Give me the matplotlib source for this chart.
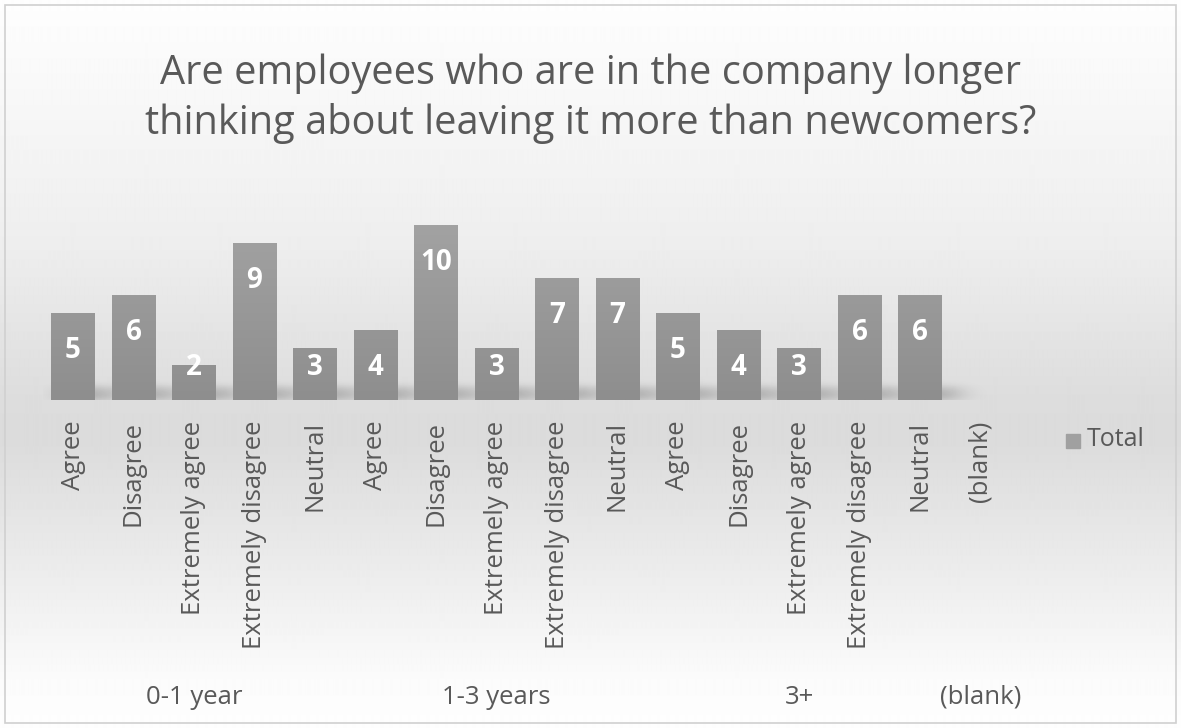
import numpy as np
import matplotlib.pyplot as plt
from matplotlib.colors import LinearSegmentedColormap

plt.rcParams['font.family'] = ['Open Sans', 'DejaVu Sans']

groups = ["0-1 year", "1-3 years", "3+", "(blank)"]
answers = [
    ["Agree", "Disagree", "Extremely agree", "Extremely disagree", "Neutral"],
    ["Agree", "Disagree", "Extremely agree", "Extremely disagree", "Neutral"],
    ["Agree", "Disagree", "Extremely agree", "Extremely disagree", "Neutral"],
    ["(blank)"],
]
totals = [
    [5, 6, 2, 9, 3],
    [4, 10, 3, 7, 7],
    [5, 4, 3, 6, 6],
    [0],
]
title = "Are employees who are in the company longer\nthinking about leaving it more than newcomers?"

labels = [a for grp in answers for a in grp]
values = [v for grp in totals for v in grp]
x = np.arange(len(labels))

W, H = 1181, 728
fig = plt.figure(figsize=(W / 100, H / 100), dpi=100)

# background: white at the top, grey band behind the bars, white again at the bottom
bg = fig.add_axes([0, 0, 1, 1], zorder=-2)
stops_y = np.array([0, 120, 250, 400, 440, 560, 680, 728])
stops_v = np.array([0.995, 0.965, 0.93, 0.865, 0.86, 0.92, 0.985, 0.995])
ys = np.arange(H)
col = np.interp(ys, stops_y, stops_v)
bg.imshow(np.repeat(col[:, None], 4, axis=1), cmap="gray", vmin=0, vmax=1,
          aspect="auto", extent=[0, 1, 1, 0], interpolation="bilinear")
bg.set_xlim(0, 1)
bg.set_ylim(1, 0)
bg.axis("off")
bg.add_patch(plt.Rectangle((5 / W, 5 / H), 1171 / W, 718 / H, fill=False,
                           edgecolor="#d0d0d0", lw=1.2))

step = 60.5
x0 = 42.75
ax = fig.add_axes([x0 / W, (H - 400) / H, 16 * step / W, 210 / H])
ax.set_xlim(-0.5, len(labels) - 0.5)
ax.set_ylim(0, 12)
ax.patch.set_alpha(0)

# soft shadow at the foot of the bars
nx, ny = 800, 120
sx = np.linspace(-0.5, len(labels) - 0.5, nx)
sy = np.linspace(0, 3, ny)
mask = np.zeros((ny, nx))
for xi, v in zip(x, values):
    if v <= 0:
        continue
    inx = (sx > xi - 0.1) & (sx < xi + 0.6)
    iny = sy < min(v, 0.7)
    mask[np.ix_(iny, inx)] = 1.0
k = np.exp(-0.5 * (np.arange(-40, 41) / 12.0) ** 2)
k /= k.sum()
blur = np.apply_along_axis(lambda r: np.convolve(r, k, mode="same"), 1, mask)
ky = np.exp(-0.5 * (np.arange(-30, 31) / 9.0) ** 2)
ky /= ky.sum()
blur = np.apply_along_axis(lambda c: np.convolve(c, ky, mode="same"), 0, blur)
shadow = np.zeros((ny, nx, 4))
shadow[..., 3] = 0.25 * blur
ax.imshow(shadow, extent=[sx[0], sx[-1], 0, 3], origin="lower",
          aspect="auto", zorder=1, interpolation="bilinear")

bars = ax.bar(x, values, width=0.72, color="#979797", zorder=2)
grad_cmap = LinearSegmentedColormap.from_list("bar", ["#8e8e8e", "#a2a2a2"])
for b in bars:
    if b.get_height() <= 0:
        continue
    bx, by = b.get_x(), b.get_y()
    bw, bh = b.get_width(), b.get_height()
    im = ax.imshow(np.linspace(0, 1, 100)[:, None] * (bh / 10.0), cmap=grad_cmap,
                   vmin=0, vmax=1, extent=[bx, bx + bw, 0, bh], origin="lower",
                   aspect="auto", zorder=3)
    im.set_clip_path(b)

for xi, v in zip(x, values):
    if v <= 0:
        continue
    ypos = max(v - 2.15, 1.85)
    ax.text(xi, ypos, str(v), ha="center", va="center", color="white",
            fontsize=20, fontweight="bold", zorder=4)

ax.set_xticks(x)
ax.set_xticklabels(labels, rotation=90, va="top", ha="center",
                   fontsize=18.5, color="#595959")
ax.tick_params(axis="x", length=0, pad=15)
ax.set_yticks([])
ax.set_xlim(-0.5, len(labels) - 0.5)
ax.set_ylim(0, 12)
for s in ax.spines.values():
    s.set_visible(False)

# group labels under the answer labels
start = 0
for g, grp in zip(groups, answers):
    mid = start + (len(grp) - 1) / 2
    px = x0 + (mid + 0.5) * step
    fig.text(px / W, 1 - 697 / H, g, ha="center", va="center",
             fontsize=18.5, color="#595959")
    start += len(grp)

# legend
fig.patches.append(plt.Rectangle((1066 / W, 1 - 448 / H), 14 / W, 14 / H,
                                 transform=fig.transFigure, color="#a0a0a0"))
fig.text(1087 / W, 1 - 440 / H, "Total", ha="left", va="center",
         fontsize=18, color="#595959")

fig.text(0.5, 1 - 99 / H, title, ha="center", va="center", fontsize=28.6,
         color="#595959", linespacing=1.3)

fig.savefig("out.png", dpi=100)
